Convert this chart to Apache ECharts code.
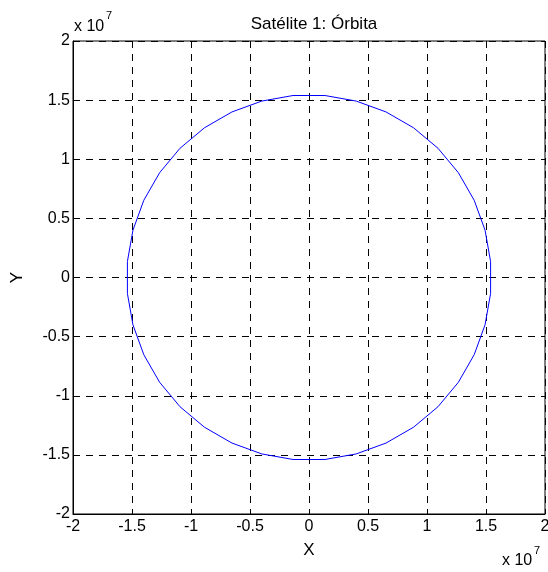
<!DOCTYPE html>
<html><head><meta charset="utf-8">
<script src="https://cdn.jsdelivr.net/npm/echarts@6/dist/echarts.min.js"></script>
<style>html,body{margin:0;padding:0;background:#fff}#c{width:548px;height:572px}</style>
</head><body><div id="c"></div>
<script>
// Orbit coordinates in units of 1e7 (as shown on the axes)
var orbitX = [1.539, 1.539, 1.492, 1.400, 1.266, 1.093, 0.886, 0.653, 0.400, 0.135,
  -0.135, -0.400, -0.653, -0.886, -1.093, -1.266, -1.400, -1.492, -1.539,
  -1.539, -1.492, -1.400, -1.266, -1.093, -0.886, -0.653, -0.400, -0.135,
  0.135, 0.400, 0.653, 0.886, 1.093, 1.266, 1.400, 1.492, 1.539];
var orbitY = [-0.135, 0.135, 0.400, 0.653, 0.886, 1.093, 1.266, 1.400, 1.492, 1.539,
  1.539, 1.492, 1.400, 1.266, 1.093, 0.886, 0.653, 0.400, 0.135,
  -0.135, -0.400, -0.653, -0.886, -1.093, -1.266, -1.400, -1.492, -1.539,
  -1.539, -1.492, -1.400, -1.266, -1.093, -0.886, -0.653, -0.400, -0.135];
var axisMin = -2, axisMax = 2, axisStep = 0.5;
var titleText = 'Satélite 1: Órbita';
var xName = 'X', yName = 'Y';
var expBase = 'x 10', expPower = '7';

var data = orbitX.map(function (x, i) { return [x, orbitY[i]]; });
var font = 'Liberation Sans, Arial, Helvetica, sans-serif';
var chart = echarts.init(document.getElementById('c'), null, {renderer: 'canvas'});
var axisCommon = {
  type: 'value', min: axisMin, max: axisMax, interval: axisStep,
  axisLine: {show: true, onZero: false, lineStyle: {color: '#000', width: 1}},
  axisTick: {show: true, inside: true, length: 4, lineStyle: {color: '#000'}},
  splitLine: {show: true, lineStyle: {color: '#000', type: [7, 6], width: 1}},
  nameLocation: 'middle',
  nameTextStyle: {color: '#000', fontSize: 17, fontFamily: font}
};
function txt(x, y, s, size) {
  return {type: 'text', x: x, y: y, style: {text: s, fontSize: size, fontFamily: font, fill: '#000', textVerticalAlign: 'middle', textAlign: 'left'}};
}
chart.setOption({
  animation: false,
  backgroundColor: '#fff',
  title: {text: titleText, left: 309, top: 11, textAlign: 'center',
    textStyle: {color: '#000', fontSize: 17, fontWeight: 'normal', fontFamily: font}},
  grid: {left: 73, top: 41, right: 3, bottom: 58, containLabel: false, outerBoundsMode: 'none',
    show: true, borderColor: '#000', borderWidth: 1, backgroundColor: 'transparent'},
  xAxis: Object.assign({}, axisCommon, {
    name: xName, nameGap: 28,
    axisLabel: {color: '#000', fontSize: 16, fontFamily: font, margin: 5}
  }),
  yAxis: Object.assign({}, axisCommon, {
    name: yName, nameGap: 47, nameRotate: 90,
    axisLabel: {color: '#000', fontSize: 16, fontFamily: font, margin: 3}
  }),
  graphic: [
    txt(74, 27, expBase, 16), txt(106, 16, expPower, 11),
    txt(502, 561, expBase, 16), txt(534, 551, expPower, 11)
  ],
  series: [{
    type: 'line', data: data, showSymbol: false, smooth: false,
    lineStyle: {color: '#0000ff', width: 1}, z: 5
  }]
});
</script></body></html>
